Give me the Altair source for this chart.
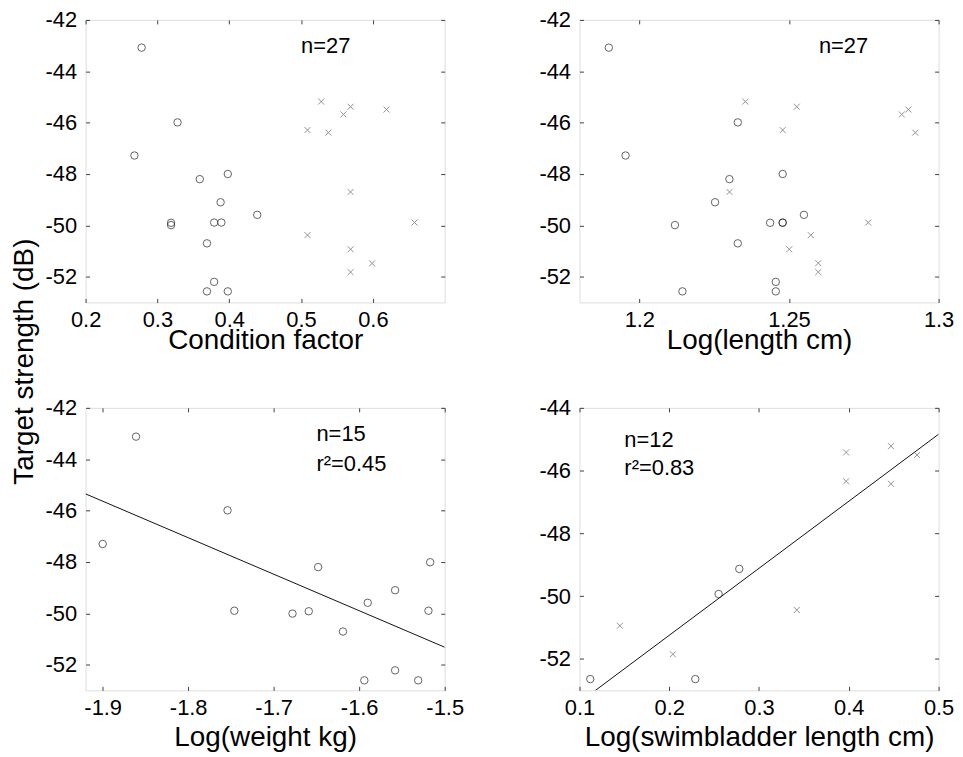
import altair as alt
import pandas as pd

FONT = "Liberation Sans"
FRAME = "#404040"
CIRC_COLOR = "#222222"
CROSS_COLOR = "#666666"
W, H = 361, 284
X_SHAPE = "M-1,-1L1,1M-1,1L1,-1"
LABEL_FS = 22
TITLE_FS = 28

# ---------------- data ----------------
# Panel A: condition factor
a_circ_x = [0.278, 0.328, 0.268, 0.359, 0.398, 0.388, 0.439, 0.319, 0.319, 0.379, 0.389, 0.369, 0.379, 0.369, 0.398]
a_circ_y = [-43.08, -45.99, -47.28, -48.20, -48.00, -49.10, -49.59, -49.90, -49.99, -49.89, -49.89, -50.70, -52.20, -52.57, -52.57]
a_cross_x = [0.528, 0.509, 0.538, 0.559, 0.569, 0.619, 0.569, 0.658, 0.509, 0.569, 0.599, 0.569]
a_cross_y = [-45.18, -46.29, -46.39, -45.68, -45.38, -45.49, -48.70, -49.89, -50.38, -50.93, -51.48, -51.82]

# Panel B: log(length cm)
b_circ_x = [1.1898, 1.1954, 1.2119, 1.2144, 1.2253, 1.2301, 1.2329, 1.2329, 1.2437, 1.2479, 1.2479, 1.2479, 1.2550, 1.2456, 1.2456]
b_circ_y = [-43.08, -47.28, -49.99, -52.57, -49.10, -48.20, -45.99, -50.70, -49.90, -49.89, -49.90, -48.00, -49.59, -52.20, -52.57]
b_cross_x = [1.2301, 1.2354, 1.2479, 1.2526, 1.2573, 1.2501, 1.2598, 1.2598, 1.2765, 1.2877, 1.2899, 1.2922]
b_cross_y = [-48.70, -45.18, -46.29, -45.38, -50.38, -50.93, -51.47, -51.82, -49.89, -45.68, -45.49, -46.39]

# Panel C: log(weight kg)
c_circ_x = [-1.861, -1.900, -1.754, -1.746, -1.678, -1.659, -1.648, -1.619, -1.590, -1.594, -1.558, -1.558, -1.531, -1.517, -1.519]
c_circ_y = [-43.12, -47.30, -45.99, -49.90, -50.01, -49.92, -48.20, -50.71, -49.59, -52.61, -49.10, -52.22, -52.61, -48.01, -49.90]
c_fit_x = [-1.92, -1.5]
c_fit_y = [-45.35, -51.32]

# Panel D: log(swimbladder length cm)
d_circ_x = [0.112, 0.229, 0.255, 0.278]
d_circ_y = [-52.64, -52.64, -49.93, -49.13]
d_cross_x = [0.145, 0.204, 0.342, 0.397, 0.397, 0.447, 0.447, 0.476]
d_cross_y = [-50.94, -51.85, -50.44, -45.42, -46.34, -45.22, -46.42, -45.50]
d_fit_x = [0.1, 0.5]
d_fit_y = [-53.38, -44.84]

# annotations
a_note = {"x": [0.5], "y": [-43.3], "t": ["n=27"]}
b_note = {"x": [1.26], "y": [-43.3], "t": ["n=27"]}
c_note = {"x": [-1.65, -1.65], "y": [-43.3, -44.45], "t": ["n=15", "r²=0.45"]}
d_note = {"x": [0.15, 0.15], "y": [-45.26, -46.15], "t": ["n=12", "r²=0.83"]}

titles = ["Condition factor", "Log(length cm)", "Log(weight kg)", "Log(swimbladder length cm)"]
y_title = "Target strength (dB)"


def build(circ_x, circ_y, cross_x, cross_y, fit_x, fit_y, note, xdom, ydom,
          xticks, yticks, xtitle, title_y, ytitle=None):
    xs = alt.Scale(domain=xdom, nice=False, zero=False)
    ys = alt.Scale(domain=ydom, nice=False, zero=False)
    circ = pd.DataFrame({"x": circ_x, "y": circ_y})
    tick = dict(labels=False, ticks=True, tickSize=4, tickColor=FRAME, tickWidth=1,
                domain=False, grid=False, title=None)
    layers = []
    # inward ticks at bottom and left
    layers.append(alt.Chart(circ).mark_point(opacity=0).encode(
        x=alt.X("x:Q", scale=xs, axis=alt.Axis(orient="top", offset=-H, values=xticks, **tick)),
        y=alt.Y("y:Q", scale=ys, axis=alt.Axis(orient="right", offset=-W, values=yticks, **tick))))
    # inward ticks at top and right
    layers.append(alt.Chart(circ).mark_point(opacity=0).encode(
        x=alt.X("x:Q", scale=xs, axis=alt.Axis(orient="bottom", offset=-H, values=xticks, **tick)),
        y=alt.Y("y:Q", scale=ys, axis=alt.Axis(orient="left", offset=-W, values=yticks, **tick))))
    if fit_x is not None:
        fit = pd.DataFrame({"x": fit_x, "y": fit_y})
        layers.append(alt.Chart(fit).mark_line(color="#111111", strokeWidth=1, clip=True).encode(
            x=alt.X("x:Q", scale=xs, axis=None), y=alt.Y("y:Q", scale=ys, axis=None)))
    if cross_x is not None:
        cross = pd.DataFrame({"x": cross_x, "y": cross_y})
        layers.append(alt.Chart(cross).mark_point(shape=X_SHAPE, filled=False, size=36,
                                                  color=CROSS_COLOR, strokeWidth=1).encode(
            x=alt.X("x:Q", scale=xs, axis=None), y=alt.Y("y:Q", scale=ys, axis=None)))
    yaxis_kw = dict(orient="left", values=yticks, labelExpr="toString(datum.value)", ticks=False,
                    tickSize=0, domain=False, grid=False, labelFontSize=LABEL_FS, labelFont=FONT,
                    labelColor="black", labelPadding=9)
    if ytitle:
        yaxis_kw.update(title=ytitle, titleX=-47, titleY=343, titleAngle=270, titleBaseline="bottom",
                        titleAlign="center", titleFontSize=TITLE_FS, titleFont=FONT,
                        titleFontWeight="normal", titleColor="black")
    else:
        yaxis_kw.update(title=None)
    xaxis = alt.Axis(orient="bottom", values=xticks, labelExpr="toString(datum.value)", ticks=False,
                     tickSize=0, domain=False, grid=False, labelFontSize=LABEL_FS, labelFont=FONT,
                     labelColor="black", labelPadding=7, labelFlush=False, labelOverlap=False,
                     title=xtitle, titleFontSize=TITLE_FS, titleFont=FONT, titleFontWeight="normal",
                     titleColor="black", titleBaseline="alphabetic", titleY=title_y)
    layers.append(alt.Chart(circ).mark_point(shape="circle", filled=False, size=56,
                                             color=CIRC_COLOR, strokeWidth=1).encode(
        x=alt.X("x:Q", scale=xs, axis=xaxis), y=alt.Y("y:Q", scale=ys, axis=alt.Axis(**yaxis_kw))))
    nd = pd.DataFrame(note)
    layers.append(alt.Chart(nd).mark_text(align="left", baseline="alphabetic", fontSize=22,
                                          font=FONT, color="black").encode(
        x=alt.X("x:Q", scale=xs, axis=None), y=alt.Y("y:Q", scale=ys, axis=None), text="t:N"))
    return alt.layer(*layers).resolve_axis(x="independent", y="independent").properties(width=W, height=H)


y_ticks_a = [-52, -50, -48, -46, -44, -42]
y_ticks_d = [-52, -50, -48, -46, -44]

pA = build(a_circ_x, a_circ_y, a_cross_x, a_cross_y, None, None, a_note, [0.2, 0.7], [-53, -42],
           [0.2, 0.3, 0.4, 0.5, 0.6], y_ticks_a, titles[0], 46, ytitle=y_title)
pB = build(b_circ_x, b_circ_y, b_cross_x, b_cross_y, None, None, b_note, [1.18, 1.3], [-53, -42],
           [1.2, 1.25, 1.3], y_ticks_a, titles[1], 46)
pC = build(c_circ_x, c_circ_y, None, None, c_fit_x, c_fit_y, c_note, [-1.92, -1.5], [-53, -42],
           [-1.9, -1.8, -1.7, -1.6, -1.5], y_ticks_a, titles[2], 55)
pD = build(d_circ_x, d_circ_y, d_cross_x, d_cross_y, d_fit_x, d_fit_y, d_note, [0.1, 0.5], [-53, -44],
           [0.1, 0.2, 0.3, 0.4, 0.5], y_ticks_d, titles[3], 55)

chart = alt.concat(pA, pB, pC, pD, columns=2, spacing={"row": 106, "column": 135.5},
                   bounds="flush").properties(
    padding={"left": 2, "top": -2, "right": 0, "bottom": 0}
).configure_view(stroke=FRAME, strokeWidth=1).configure(background="white")

chart.save("out.html", embed_options={"renderer": "svg", "actions": False})
